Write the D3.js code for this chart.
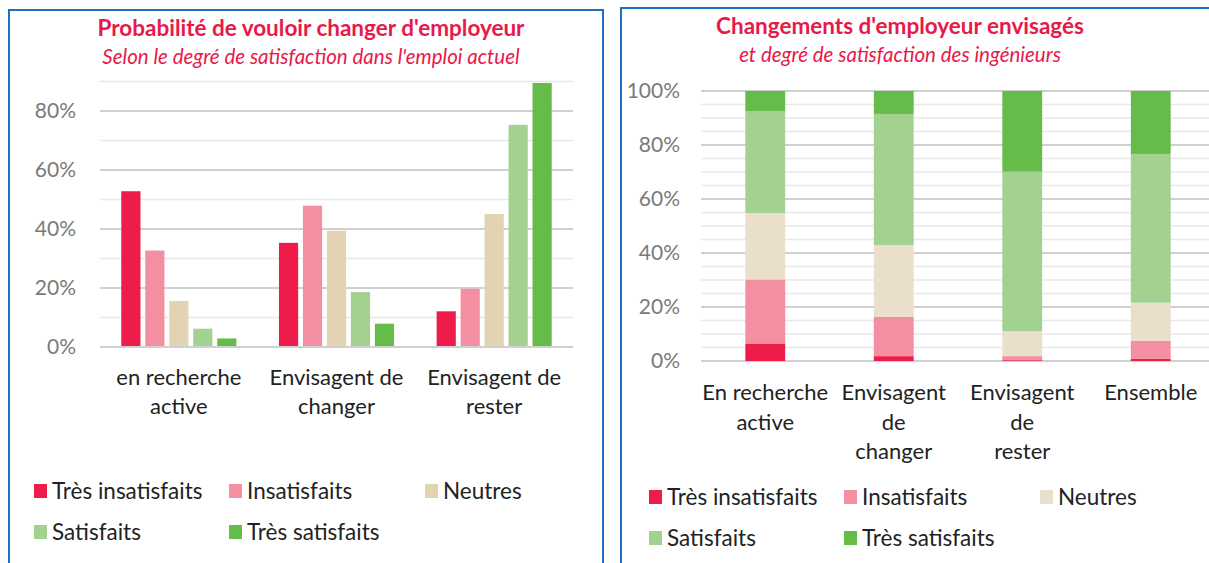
<!DOCTYPE html>
<html>
<head>
<meta charset="utf-8">
<script src="https://cdn.jsdelivr.net/npm/d3@7"></script>
<style>
  body { margin: 0; background: #fff; }
  svg { display: block; font-family: Lato, "Noto Sans", sans-serif; }
</style>
</head>
<body>
<script>
var width = 1209,
    height = 563;

// ---- data ----
var levels = ["Très insatisfaits", "Insatisfaits", "Neutres", "Satisfaits", "Très satisfaits"];

var leftCats = [["en recherche", "active"], ["Envisagent de", "changer"], ["Envisagent de", "rester"]];
// share of each satisfaction level per category (grouped bars)
var leftTresInsat = [52.8, 35.3, 12.1],
    leftInsat     = [32.7, 47.9, 19.7],
    leftNeutres   = [15.6, 39.4, 45.1],
    leftSat       = [6.2, 18.6, 75.3],
    leftTresSat   = [2.9, 7.9, 89.5];
var leftTicks = [0, 20, 40, 60, 80];

var rightCats = [["En recherche", "active"], ["Envisagent", "de", "changer"], ["Envisagent", "de", "rester"], ["Ensemble"]];
// stacked composition per category
var rightTresInsat = [6.5, 1.8, 0.3, 0.9],
    rightInsat     = [23.7, 14.5, 1.5, 6.5],
    rightNeutres   = [24.6, 26.6, 9.2, 14.2],
    rightSat       = [37.8, 48.6, 59.1, 55.1],
    rightTresSat   = [7.4, 8.5, 29.9, 23.3];
var rightTicks = [0, 20, 40, 60, 80, 100];

var leftColors  = ["#ee1c4a", "#f48fa1", "#e2d3b3", "#a2d190", "#65bc48"];
var rightColors = ["#ee1c4a", "#f48fa1", "#eadfca", "#a2d190", "#65bc48"];

var titleColor = "#e8194a",
    borderColor = "#1f6fc0";

var svg = d3.select("body").append("svg")
    .attr("width", width)
    .attr("height", height);

// ---- panel frames ----
svg.append("rect").attr("x", 9).attr("y", 10).attr("width", 594).attr("height", 600)
    .attr("fill", "none").attr("stroke", borderColor).attr("stroke-width", 2);
svg.append("rect").attr("x", 621).attr("y", 8).attr("width", 620).attr("height", 600)
    .attr("fill", "none").attr("stroke", borderColor).attr("stroke-width", 2);

function titles(cx, y, t, sub) {
    svg.append("text").attr("x", cx).attr("y", y).attr("text-anchor", "middle")
        .attr("font-weight", "bold").attr("font-size", 22.5).attr("fill", titleColor).text(t);
    svg.append("text").attr("x", cx).attr("y", y + 28).attr("text-anchor", "middle")
        .attr("font-style", "italic").attr("font-size", 20.5).attr("fill", titleColor).text(sub);
}

function legend(x0, y0, colors) {
    var cols = [0, 195, 391];
    var g = svg.append("g");
    levels.forEach(function(name, i) {
        var x = x0 + cols[i % 3], y = y0 + Math.floor(i / 3) * 41;
        if (i >= 3) x = x0 + cols[i - 3];
        g.append("rect").attr("x", x).attr("y", y - 7).attr("width", 13).attr("height", 14).attr("fill", colors[i]);
        g.append("text").attr("x", x + 18).attr("y", y).attr("dy", "0.35em")
            .attr("font-size", 22.5).attr("fill", "#222").text(name);
    });
}

function gridlines(g, x0, x1, y, step, max) {
    for (var v = 0; v <= max + 0.001; v += step) {
        var major = Math.abs(v % 20) < 0.001;
        g.append("line").attr("x1", x0).attr("x2", x1).attr("y1", y(v)).attr("y2", y(v))
            .attr("stroke", major ? "#d0d0d0" : "#e8e8e8").attr("stroke-width", major ? 2 : 1.5);
    }
}

function catLabels(g, x, cats, y0, lh) {
    cats.forEach(function(lines, i) {
        var t = g.append("text").attr("text-anchor", "middle").attr("font-size", 22).attr("fill", "#222");
        lines.forEach(function(l, j) {
            t.append("tspan").attr("x", x(i) + x.bandwidth() / 2).attr("y", y0 + j * lh).text(l);
        });
    });
}

// ---- left chart: grouped bars ----
(function() {
    titles(311, 36, "Probabilité de vouloir changer d'employeur", "Selon le degré de satisfaction dans l'emploi actuel");
    var series = [leftTresInsat, leftInsat, leftNeutres, leftSat, leftTresSat];
    var g = svg.append("g");
    var x = d3.scaleBand().domain(d3.range(leftCats.length)).range([100, 573]).paddingInner(0.27).paddingOuter(0.135);
    var xi = d3.scaleBand().domain(d3.range(levels.length)).range([0, x.bandwidth()]).paddingInner(0.2);
    var y = d3.scaleLinear().domain([0, 90]).range([347, 81.5]);

    gridlines(g, 100, 573, y, 10, 90);

    g.selectAll("text.tick").data(leftTicks).enter().append("text")
        .attr("x", 76).attr("y", function(d) { return y(d); }).attr("dy", "0.35em")
        .attr("text-anchor", "end").attr("font-size", 21).attr("fill", "#7a7a7a")
        .text(function(d) { return d + "%"; });

    series.forEach(function(vals, s) {
        g.selectAll(null).data(vals).enter().append("rect")
            .attr("x", function(d, i) { return x(i) + xi(s); })
            .attr("width", xi.bandwidth())
            .attr("y", function(d) { return y(d); })
            .attr("height", function(d) { return y(0) - y(d); })
            .attr("fill", leftColors[s]);
    });
    g.append("line").attr("x1", 100).attr("x2", 573).attr("y1", y(0)).attr("y2", y(0))
        .attr("stroke", "#d0d0d0").attr("stroke-width", 2);

    catLabels(g, x, leftCats, 385, 29);
    legend(34, 491, leftColors);
})();

// ---- right chart: stacked bars ----
(function() {
    titles(900, 34, "Changements d'employeur envisagés", "et degré de satisfaction des ingénieurs");
    var series = [rightTresInsat, rightInsat, rightNeutres, rightSat, rightTresSat];
    var rows = rightCats.map(function(c, i) {
        var r = { i: i };
        levels.forEach(function(l, s) { r[l] = series[s][i]; });
        return r;
    });
    var stack = d3.stack().keys(levels)(rows);
    var g = svg.append("g");
    var x = d3.scaleBand().domain(d3.range(rightCats.length)).range([701, 1215]).paddingInner(0.69).paddingOuter(0.345);
    var y = d3.scaleLinear().domain([0, 100]).range([361, 91]);

    gridlines(g, 701, 1209, y, 5, 100);

    g.selectAll("text.tick").data(rightTicks).enter().append("text")
        .attr("x", 680).attr("y", function(d) { return y(d); }).attr("dy", "0.35em")
        .attr("text-anchor", "end").attr("font-size", 21).attr("fill", "#7a7a7a")
        .text(function(d) { return d + "%"; });

    stack.forEach(function(layer, s) {
        g.selectAll(null).data(layer).enter().append("rect")
            .attr("x", function(d) { return x(d.data.i); })
            .attr("width", x.bandwidth())
            .attr("y", function(d) { return y(d[1]); })
            .attr("height", function(d) { return y(d[0]) - y(d[1]); })
            .attr("fill", rightColors[s]);
    });

    catLabels(g, x, rightCats, 400, 29.5);
    legend(649, 497, rightColors);
})();
</script>
</body>
</html>
